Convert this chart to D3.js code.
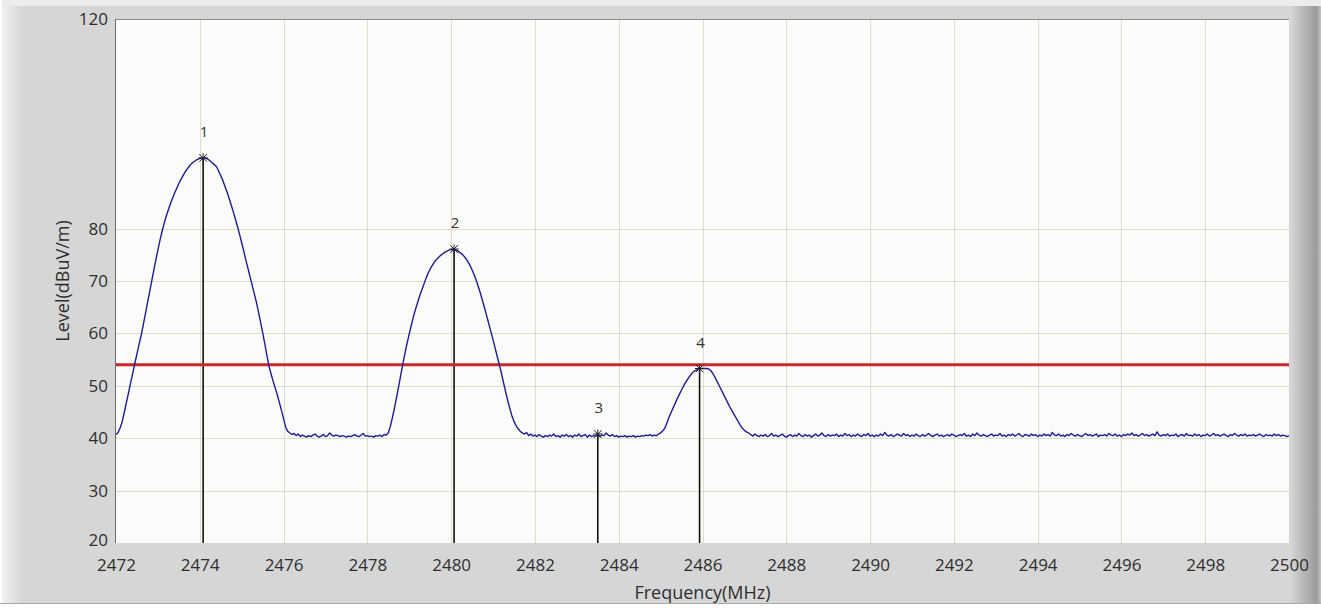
<!DOCTYPE html>
<html>
<head>
<meta charset="utf-8">
<script src="https://cdn.jsdelivr.net/npm/d3@7"></script>
<style>
  body { margin: 0; background: #fff; }
  svg { display: block; }
</style>
</head>
<body>
<svg id="chart"></svg>
<script>
const width = 1321;
const height = 608;

// x axis / y axis ticks
const freqTicks = [2472, 2474, 2476, 2478, 2480, 2482, 2484, 2486, 2488, 2490, 2492, 2494, 2496, 2498, 2500];
const levelTicks = [20, 30, 40, 50, 60, 70, 80, 120];
const levelGrid = [30, 40, 50, 60, 70, 80];
const limitLevel = 54;

// markers
const markerNames = ["1", "2", "3", "4"];
const markerFreqs = [2474.08, 2480.07, 2483.5, 2485.93];
const markerLevels = [93.5, 76.1, 40.8, 53.3];

// trace, sampled every 0.05 MHz, in pieces (start freq of each piece)
const traceStep = 0.05;
const segStarts = [2472.0, 2476.25, 2478.5, 2481.8, 2485.0, 2487.15];

const peak1 = [
  40.7, 41.1, 42.0, 43.2, 45.0, 46.9, 48.7, 50.6, 52.4, 54.3,
  56.1, 57.9, 59.6, 61.6, 63.7, 65.8, 67.8, 69.9, 72.0, 74.0,
  75.9, 77.8, 79.5, 81.0, 82.4, 83.6, 84.8, 85.8, 86.8, 87.7,
  88.6, 89.4, 90.1, 90.8, 91.4, 91.9, 92.4, 92.7, 93.0, 93.2,
  93.4, 93.5, 93.5, 93.4, 93.2, 92.9, 92.5, 92.2, 91.8, 91.0,
  90.1, 89.2, 88.1, 87.0, 85.8, 84.5, 83.2, 81.8, 80.4, 78.9,
  77.3, 75.7, 74.0, 72.4, 70.8, 69.2, 67.6, 66.0, 64.1, 62.2,
  60.2, 58.1, 55.9, 53.8, 52.3, 50.9, 49.6, 48.3, 46.8, 45.3,
  43.7, 42.1, 41.3, 41.0, 40.7
];
const floorA = [
  40.9, 40.5, 40.8, 40.3, 40.6, 40.4, 40.2, 40.5, 40.3, 40.6,
  40.8, 40.4, 40.2, 40.4, 40.7, 40.3, 40.5, 41.0, 40.6, 40.4,
  40.6, 40.5, 40.3, 40.5, 40.4, 40.2, 40.4, 40.3, 40.5, 40.7,
  40.4, 40.3, 40.6, 40.9, 40.4, 40.5, 40.3, 40.4, 40.2, 40.5,
  40.4, 40.6, 40.3, 40.7, 40.6
];
const peak2 = [
  41.0, 42.3, 44.0, 45.9, 47.9, 50.0, 52.2, 54.3, 56.3, 58.2,
  59.9, 61.6, 63.2, 64.6, 65.9, 67.2, 68.3, 69.4, 70.5, 71.5,
  72.3, 73.0, 73.6, 74.1, 74.5, 74.9, 75.2, 75.5, 75.7, 75.9,
  76.0, 76.1, 76.0, 75.8, 75.5, 75.2, 74.8, 74.3, 73.7, 73.0,
  72.1, 71.2, 70.1, 68.9, 67.6, 66.2, 64.8, 63.3, 61.8, 60.3,
  58.8, 57.2, 55.6, 54.1, 52.4, 50.6, 48.9, 47.2, 45.7, 44.3,
  43.2, 42.4, 41.8, 41.3, 41.0, 40.8
];
const floorB = [
  41.1, 40.5, 40.8, 40.4, 40.6, 40.3, 40.7, 40.4, 40.2, 40.5,
  40.3, 40.6, 40.4, 40.8, 40.3, 40.5, 40.2, 40.6, 40.4, 40.7,
  40.3, 40.5, 40.2, 40.6, 40.4, 40.8, 40.3, 40.5, 40.7, 40.2,
  40.6, 40.3, 40.5, 40.4, 40.8, 40.3, 40.6, 40.5, 41.0, 40.6,
  40.4, 40.7, 40.3, 40.5, 40.2, 40.4, 40.3, 40.5, 40.2, 40.4,
  40.3, 40.5, 40.2, 40.4, 40.3, 40.5, 40.4, 40.6, 40.5, 40.7,
  40.4, 40.6, 40.5, 40.8
];
const peak4 = [
  41.0, 41.4, 41.9, 42.9, 44.0, 44.9, 45.8, 46.7, 47.6, 48.4,
  49.2, 50.0, 50.7, 51.3, 51.9, 52.4, 52.8, 53.0, 53.2, 53.3,
  53.3, 53.3, 53.3, 53.2, 52.9, 52.3, 51.6, 50.8, 50.0, 49.2,
  48.4, 47.6, 46.8, 46.0, 45.3, 44.6, 43.9, 43.2, 42.5, 41.9,
  41.5, 41.2, 41.0
];
const floorC = [
  40.7, 40.4, 40.8, 40.5, 40.3, 40.6, 40.4, 40.7, 40.3, 40.5, 40.9, 40.4, 40.6, 40.3, 40.5, 40.8, 40.4, 40.2, 40.5, 40.7,
  40.3, 40.6, 40.4, 40.9, 40.5, 40.3, 40.7, 40.4, 40.6, 40.2, 40.5, 40.8, 40.4, 40.6, 41.0, 40.5, 40.3, 40.7, 40.4, 40.6,
  40.5, 40.8, 40.3, 40.6, 40.4, 40.9, 40.5, 40.7, 40.3, 40.6, 40.4, 40.8, 40.5, 40.3, 40.7, 40.5, 40.9, 40.4, 40.6, 40.3,
  40.6, 40.4, 40.8, 40.5, 41.1, 40.6, 40.4, 40.7, 40.3, 40.5, 40.8, 40.6, 40.4, 40.9, 40.5, 40.7, 40.3, 40.6, 40.4, 40.8,
  40.5, 40.3, 40.7, 40.4, 40.6, 40.9, 40.5, 40.3, 40.6, 40.8, 40.4, 40.6, 40.3, 40.5, 40.7, 40.4, 40.8, 40.6, 40.3, 40.5,
  40.7, 40.5, 40.9, 40.4, 40.6, 40.3, 40.8, 40.5, 41.0, 40.6, 40.4, 40.7, 40.5, 40.3, 40.6, 40.8, 40.4, 40.6, 40.5, 40.9,
  40.4, 40.6, 40.3, 40.7, 40.5, 40.8, 40.4, 40.6, 40.9, 40.5, 40.3, 40.7, 40.6, 40.4, 40.8, 40.5, 40.7, 40.3, 40.6, 40.4,
  40.8, 40.5, 40.7, 40.4, 41.1, 40.6, 40.5, 40.8, 40.4, 40.6, 40.3, 40.7, 40.5, 40.9, 40.6, 40.4, 40.7, 40.5, 40.3, 40.6,
  40.9, 40.5, 40.7, 40.4, 40.6, 40.8, 40.3, 40.6, 40.5, 40.7, 40.4, 40.9, 40.6, 40.5, 40.8, 40.4, 40.6, 40.3, 40.7, 40.5,
  40.8, 40.6, 41.0, 40.5, 40.7, 40.4, 40.6, 40.9, 40.5, 40.7, 40.4, 40.6, 40.8, 40.5, 41.2, 40.6, 40.4, 40.7, 40.5, 40.8,
  40.4, 40.6, 40.5, 40.8, 40.3, 40.6, 40.7, 40.4, 40.9, 40.5, 40.6, 40.4, 40.8, 40.5, 40.7, 40.3, 40.6, 40.5, 40.8, 40.4,
  40.6, 40.9, 40.5, 40.7, 40.4, 40.6, 40.8, 40.5, 40.3, 40.7, 40.5, 40.9, 40.6, 40.4, 40.7, 40.5, 40.8, 40.4, 40.6, 40.5,
  40.7, 40.4, 40.6, 40.8, 40.5, 40.3, 40.7, 40.5, 40.6, 40.4, 40.8, 40.5, 40.7, 40.4, 40.6, 40.5, 40.3, 40.5
];

const segments = [peak1, floorA, peak2, floorB, peak4, floorC];

// build [freq, level] points from the pieces
const trace = [];
segments.forEach((seg, s) => {
  seg.forEach((v, i) => {
    const f = segStarts[s] + i * traceStep;
    if (f <= 2500.001) trace.push([f, v]);
  });
});

const margin = { top: 19, right: 32, bottom: 65, left: 116 };
const font = "'Open Sans', 'Noto Sans', sans-serif";

const svg = d3
  .select("#chart")
  .attr("width", width)
  .attr("height", height)
  .style("font-family", font);

// frame background
const defs = svg.append("defs");
const gr = defs.append("linearGradient").attr("id", "gr-right").attr("x1", 0).attr("x2", 1);
gr.append("stop").attr("offset", "0%").attr("stop-color", "#d2d2d2");
gr.append("stop").attr("offset", "45%").attr("stop-color", "#b4b4b4");
gr.append("stop").attr("offset", "85%").attr("stop-color", "#9c9c9c");
gr.append("stop").attr("offset", "100%").attr("stop-color", "#c4c4c4");
const gl = defs.append("linearGradient").attr("id", "gr-left").attr("x1", 0).attr("x2", 1);
gl.append("stop").attr("offset", "0%").attr("stop-color", "#f2f2f2");
gl.append("stop").attr("offset", "100%").attr("stop-color", "#d6d6d6");

svg.append("rect").attr("width", width).attr("height", height).attr("fill", "#fff");
svg.append("rect").attr("x", 2).attr("y", 4).attr("width", 1290).attr("height", 599).attr("fill", "#d6d6d6");
svg.append("rect").attr("x", 2).attr("y", 4).attr("width", 20).attr("height", 599).attr("fill", "url(#gr-left)");
svg.append("rect").attr("x", 2).attr("y", 0).attr("width", 1319).attr("height", 6).attr("fill", "#ececec");
svg.append("rect").attr("x", 1292).attr("y", 6).attr("width", 29).attr("height", 597).attr("fill", "url(#gr-right)");
svg.append("line").attr("x1", 0).attr("x2", 1321).attr("y1", 603.5).attr("y2", 603.5).attr("stroke", "#a8a8a8");

const x = d3.scaleLinear().domain([2472, 2500]).range([margin.left, width - margin.right]);
const y = d3.scaleLinear().domain([20, 120]).range([height - margin.bottom, margin.top]);

const x0 = x.range()[0], x1 = x.range()[1];
const yTop = y(120), yBot = y(20);

// plot area
svg.append("rect")
  .attr("x", x0).attr("y", yTop)
  .attr("width", x1 - x0).attr("height", yBot - yTop)
  .attr("fill", "#fbfbfa");

// grid
const grid = svg.append("g").attr("stroke", "#dfdccb").attr("stroke-width", 1);
grid.selectAll(".vg")
  .data(freqTicks.slice(1, -1))
  .join("line")
  .attr("x1", (d) => Math.round(x(d)) + 0.5)
  .attr("x2", (d) => Math.round(x(d)) + 0.5)
  .attr("y1", yTop)
  .attr("y2", yBot);
grid.selectAll(".hg")
  .data(levelGrid)
  .join("line")
  .attr("x1", x0)
  .attr("x2", x1)
  .attr("y1", (d) => Math.round(y(d)) + 0.5)
  .attr("y2", (d) => Math.round(y(d)) + 0.5);

// border lines (top + left)
svg.append("line").attr("x1", x0).attr("x2", x1).attr("y1", yTop + 0.5).attr("y2", yTop + 0.5).attr("stroke", "#8c8c8c");
svg.append("line").attr("x1", x0 - 0.5).attr("x2", x0 - 0.5).attr("y1", yTop).attr("y2", yBot).attr("stroke", "#6e6e6e");

// axes (labels only, no domain / tick marks)
const xAxis = d3.axisBottom(x).tickValues(freqTicks).tickSize(0).tickPadding(16).tickFormat(d3.format("d"));
svg.append("g")
  .attr("transform", `translate(0,${yBot})`)
  .call(xAxis)
  .call((g) => g.select(".domain").remove())
  .selectAll("text")
  .attr("font-size", 17)
  .attr("font-family", font)
  .attr("fill", "#2e2e2e");

const yAxis = d3.axisLeft(y).tickValues(levelTicks).tickSize(0).tickPadding(8).tickFormat(d3.format("d"));
svg.append("g")
  .attr("transform", `translate(${x0},0)`)
  .call(yAxis)
  .call((g) => g.select(".domain").remove())
  .selectAll("text")
  .attr("font-size", 17)
  .attr("font-family", font)
  .attr("fill", "#2e2e2e")
  .attr("dy", (d) => (d == 20 ? "0.15em" : "0.32em"));

// axis titles
svg.append("text")
  .attr("x", (x0 + x1) / 2)
  .attr("y", 599)
  .attr("text-anchor", "middle")
  .attr("font-size", 18)
  .attr("fill", "#2e2e2e")
  .text("Frequency(MHz)");

svg.append("text")
  .attr("transform", `translate(69, 281) rotate(-90)`)
  .attr("text-anchor", "middle")
  .attr("font-size", 18)
  .attr("fill", "#2e2e2e")
  .text("Level(dBuV/m)");

// marker lines
svg.append("g")
  .selectAll("line")
  .data(markerFreqs)
  .join("line")
  .attr("x1", (d) => x(d))
  .attr("x2", (d) => x(d))
  .attr("y1", (d, i) => y(markerLevels[i]))
  .attr("y2", yBot)
  .attr("stroke", "#111")
  .attr("stroke-width", 1.6);

// limit line
svg.append("line")
  .attr("x1", x0)
  .attr("x2", x1)
  .attr("y1", y(limitLevel))
  .attr("y2", y(limitLevel))
  .attr("stroke", "#c8282c")
  .attr("stroke-width", 3);

// trace
const line = d3.line().x((d) => x(d[0])).y((d) => y(d[1]));
svg.append("path")
  .datum(trace)
  .attr("d", line)
  .attr("fill", "none")
  .attr("stroke", "#1d1d96")
  .attr("stroke-width", 1.4)
  .attr("stroke-linejoin", "round");

// marker stars
const mk = svg.append("g").attr("stroke", "#222").attr("stroke-width", 1).attr("fill", "none");
mk.selectAll(".times")
  .data(markerFreqs)
  .join("path")
  .attr("transform", (d, i) => `translate(${x(d)},${y(markerLevels[i])})`)
  .attr("d", d3.symbol().type(d3.symbolTimes).size(40));
mk.selectAll(".plus")
  .data(markerFreqs)
  .join("path")
  .attr("transform", (d, i) => `translate(${x(d)},${y(markerLevels[i])})`)
  .attr("d", d3.symbol().type(d3.symbolPlus).size(30));

// marker labels
svg.append("g")
  .selectAll("text")
  .data(markerNames)
  .join("text")
  .attr("x", (d, i) => x(markerFreqs[i]) + 1)
  .attr("y", (d, i) => y(markerLevels[i]) - 21)
  .attr("text-anchor", "middle")
  .attr("font-size", 15)
  .attr("fill", "#333")
  .text((d) => d);
</script>
</body>
</html>
